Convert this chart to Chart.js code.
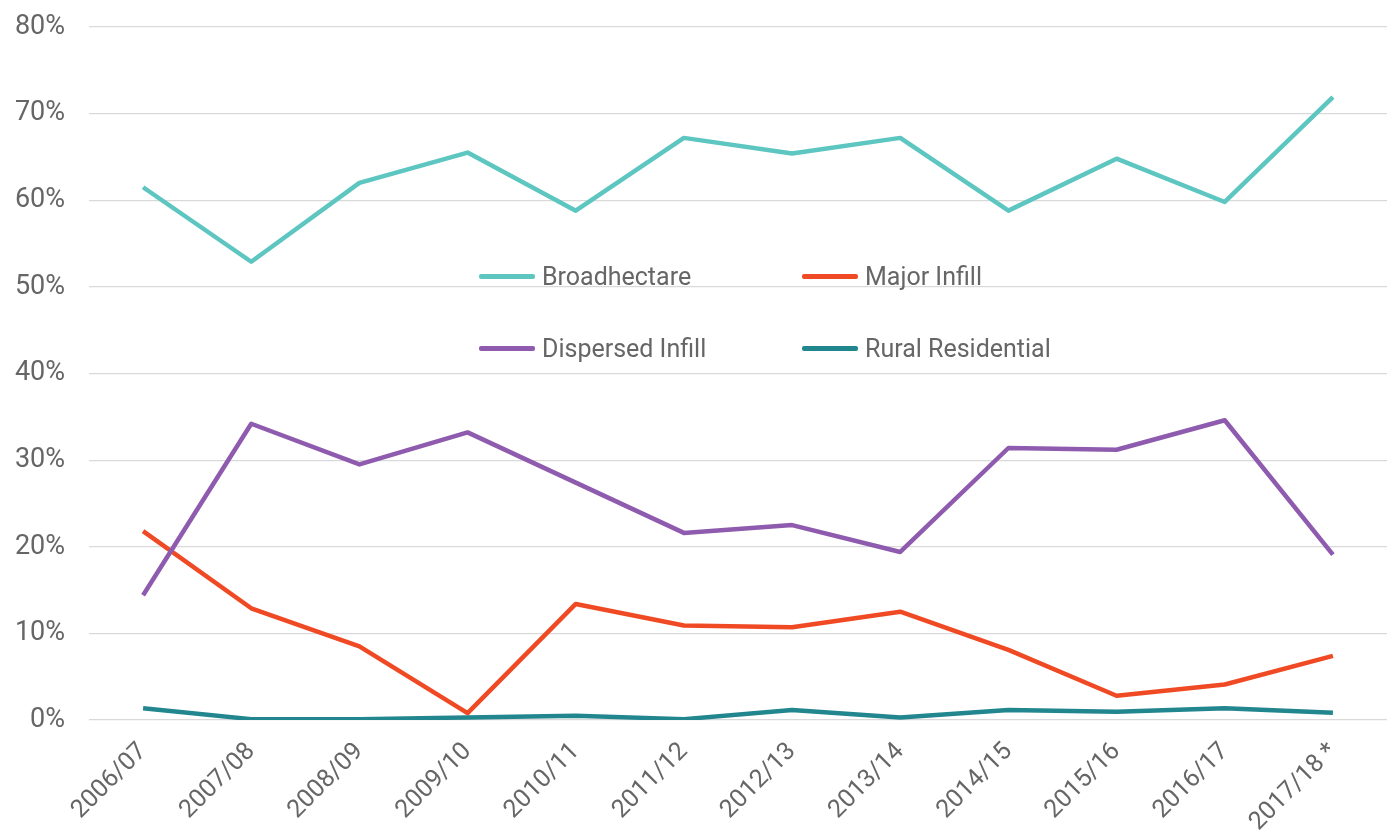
<!DOCTYPE html>
<html>
<head>
<meta charset="utf-8">
<script src="https://cdn.jsdelivr.net/npm/chart.js@4/dist/chart.umd.min.js"></script>
<style>
  html, body { margin: 0; padding: 0; background: #ffffff; }
  #wrap { position: relative; width: 1392px; height: 834px; }
  canvas { position: absolute; left: 0; top: 0; }
  .leg { position: absolute; font-family: Roboto, "Liberation Sans", sans-serif; font-size: 25px; color: #666666; line-height: 30px; white-space: nowrap; }
  .leg .sw { position: absolute; height: 5px; border-radius: 2px; }
</style>
</head>
<body>
<div id="wrap">
  <canvas id="c" width="1392" height="834"></canvas>
  <div id="legend"></div>
</div>
<script>
const categories = ["2006/07","2007/08","2008/09","2009/10","2010/11","2011/12","2012/13","2013/14","2014/15","2015/16","2016/17","2017/18 *"];
const broadhectare     = [61.5, 52.9, 62.0, 65.5, 58.8, 67.2, 65.4, 67.2, 58.8, 64.8, 59.8, 71.9];
const majorInfill      = [21.8, 12.9, 8.5, 0.8, 13.4, 10.9, 10.7, 12.5, 8.1, 2.8, 4.1, 7.4];
const dispersedInfill  = [14.4, 34.2, 29.5, 33.2, 27.4, 21.6, 22.5, 19.4, 31.4, 31.2, 34.6, 19.1];
const ruralResidential = [1.35, 0.1, 0.1, 0.3, 0.5, 0.1, 1.15, 0.3, 1.15, 0.95, 1.35, 0.85];
const seriesNames = ["Broadhectare", "Major Infill", "Dispersed Infill", "Rural Residential"];
const seriesColors = ["#5EC6C1", "#F04A25", "#8E5BAE", "#22868F"];
const yTicks = [0, 10, 20, 30, 40, 50, 60, 70, 80];

const seriesData = [broadhectare, majorInfill, dispersedInfill, ruralResidential];

const datasets = seriesNames.map((name, i) => ({
  label: name,
  data: seriesData[i],
  borderColor: seriesColors[i],
  backgroundColor: seriesColors[i],
  borderWidth: 4.5,
  pointRadius: 0,
  pointHoverRadius: 0,
  tension: 0,
  fill: false,
  borderJoinStyle: 'round',
  borderCapStyle: 'butt',
  order: 4 - i
}));

const textColor = '#666666';

new Chart(document.getElementById('c'), {
  type: 'line',
  data: { labels: categories, datasets },
  options: {
    responsive: false,
    animation: false,
    devicePixelRatio: 1,
    layout: { padding: { top: 27, right: 5, left: 0, bottom: 0 } },
    plugins: { legend: { display: false }, tooltip: { enabled: false } },
    scales: {
      x: {
        offset: true,
        grid: { display: false },
        border: { display: false },
        ticks: {
          color: textColor,
          font: { family: 'Roboto', size: 25 },
          minRotation: 45,
          maxRotation: 45,
          autoSkip: false,
          padding: 9
        },
        afterFit: (s) => { s.height = 114; }
      },
      y: {
        min: 0,
        max: 80,
        afterBuildTicks: (s) => { s.ticks = yTicks.map(v => ({ value: v })); },
        grid: { color: '#d9d9d9', lineWidth: 1.2, drawTicks: true, tickLength: 24, tickColor: 'rgba(0,0,0,0)' },
        border: { display: false },
        ticks: {
          color: textColor,
          font: { family: 'Roboto', size: 27 },
          padding: 0,
          callback: (v) => v + '%'
        },
        afterFit: (s) => { s.width = 89; }
      }
    }
  }
});

// Legend placed inside the plot area, as in the reference
const legendPos = [
  { sx: 479, tx: 542, y: 277 },
  { sx: 802, tx: 865, y: 277 },
  { sx: 479, tx: 542, y: 349 },
  { sx: 802, tx: 865, y: 349 }
];
const legendEl = document.getElementById('legend');
seriesNames.forEach((name, i) => {
  const p = legendPos[i];
  const sw = document.createElement('div');
  sw.className = 'leg';
  sw.style.left = p.sx + 'px';
  sw.style.top = (p.y - 3) + 'px';
  sw.innerHTML = '<div class="sw" style="left:0;top:0;width:56px;background:' + seriesColors[i] + '"></div>';
  legendEl.appendChild(sw);
  const t = document.createElement('div');
  t.className = 'leg';
  t.style.left = p.tx + 'px';
  t.style.top = (p.y - 15) + 'px';
  t.textContent = name;
  legendEl.appendChild(t);
});
</script>
</body>
</html>
